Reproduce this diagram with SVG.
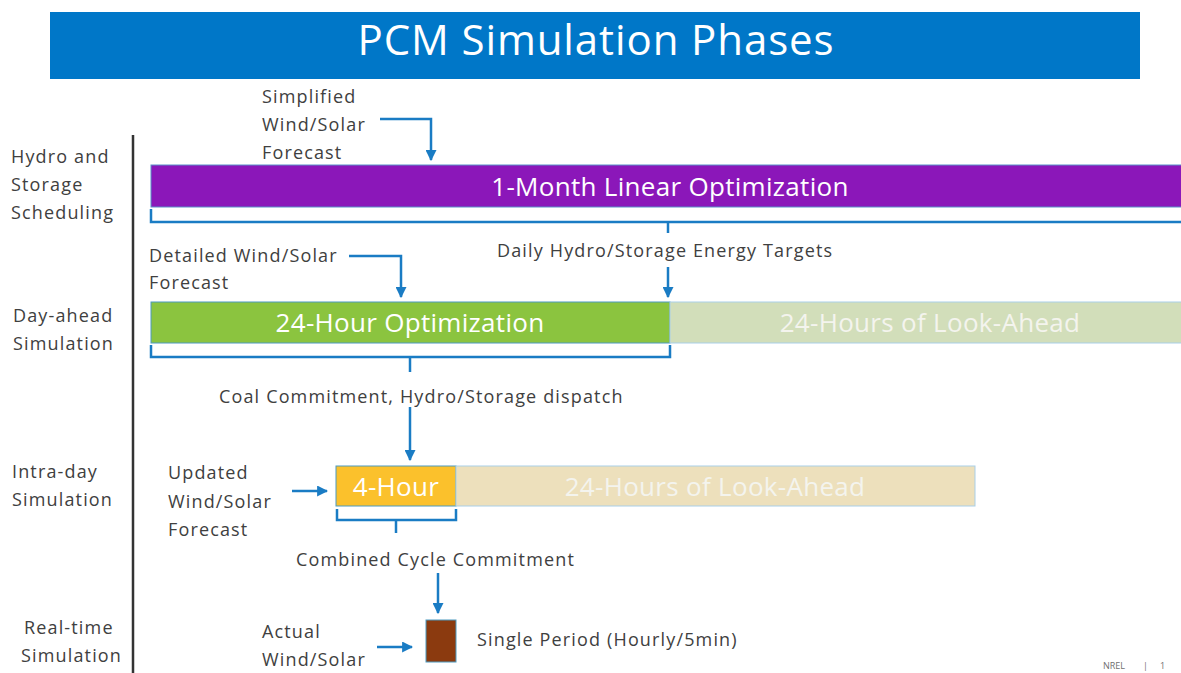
<svg xmlns="http://www.w3.org/2000/svg" width="1181" height="673" viewBox="0 0 1181 673">
<defs>
<marker id="ah" viewBox="0 0 10 10" refX="9" refY="5" markerWidth="4.4" markerHeight="4.4" orient="auto" markerUnits="strokeWidth"><path d="M0,0 L10,5 L0,10 z" fill="#1A7CC4"/></marker>
<style>
text{font-family:"Open Sans","Noto Sans",sans-serif}
.lbl{font-size:18px;fill:#404040;letter-spacing:1.15px}
.bar{font-size:26px;fill:#ffffff;letter-spacing:0.3px}
.bt{font-size:26px;fill:#f4f4ee;letter-spacing:0.3px}
.con{fill:none;stroke:#1A7CC4;stroke-width:2.5}
.arr{fill:none;stroke:#1A7CC4;stroke-width:2.5;marker-end:url(#ah)}
.ft{font-size:9px;fill:#707070}
</style>
</defs>
<rect width="1181" height="673" fill="#ffffff"/>
<g id="title">
<rect x="50" y="12" width="1090" height="67" fill="#0077C8"/>
<text x="596" y="55" text-anchor="middle" style="font-size:42px;fill:#ffffff;letter-spacing:0.9px">PCM Simulation Phases</text>
</g>
<g id="phase-labels">
<line x1="133" y1="135" x2="133" y2="673" stroke="#333333" stroke-width="2.5"/>
<text class="lbl" x="11" y="163">Hydro and</text>
<text class="lbl" x="11" y="191">Storage</text>
<text class="lbl" x="11" y="219">Scheduling</text>
<text class="lbl" x="13" y="322">Day-ahead</text>
<text class="lbl" x="13" y="350">Simulation</text>
<text class="lbl" x="12" y="478">Intra-day</text>
<text class="lbl" x="12" y="506">Simulation</text>
<text class="lbl" x="24" y="634">Real-time</text>
<text class="lbl" x="21" y="662">Simulation</text>
</g>
<g id="month">
<rect x="151" y="165" width="1032" height="42" fill="#8B17B9" stroke="#5B8FC9" stroke-width="1"/>
<text class="bar" x="670" y="196" text-anchor="middle">1-Month Linear Optimization</text>
</g>
<g id="dayahead">
<rect x="151" y="302" width="519" height="41" fill="#8BC43F" stroke="#4C9AC0" stroke-width="1"/>
<text class="bar" x="410" y="332" text-anchor="middle">24-Hour Optimization</text>
</g>
<g id="dayahead-lookahead">
<rect x="670" y="302" width="513" height="41" fill="#D2DEBA" stroke="#A9CFE8" stroke-width="1"/>
<text class="bt" x="930" y="332" text-anchor="middle">24-Hours of Look-Ahead</text>
</g>
<g id="intraday">
<rect x="336" y="466" width="120" height="40" fill="#FBC12C" stroke="#4C9AC0" stroke-width="1"/>
<text class="bar" x="396" y="496" text-anchor="middle">4-Hour</text>
</g>
<g id="intraday-lookahead">
<rect x="456" y="466" width="519" height="40" fill="#EDE0BC" stroke="#A9CFE8" stroke-width="1"/>
<text class="bt" x="715" y="496" text-anchor="middle">24-Hours of Look-Ahead</text>
</g>
<g id="realtime">
<rect x="426" y="620" width="30" height="42" fill="#8B3A0F" stroke="#4C9AC0" stroke-width="1"/>
<text class="lbl" x="477" y="646">Single Period (Hourly/5min)</text>
</g>
<g id="inputs">
<text class="lbl" x="262" y="103">Simplified</text>
<text class="lbl" x="262" y="131">Wind/Solar</text>
<text class="lbl" x="262" y="159">Forecast</text>
<text class="lbl" x="149" y="262">Detailed Wind/Solar</text>
<text class="lbl" x="149" y="289">Forecast</text>
<text class="lbl" x="497" y="257">Daily Hydro/Storage Energy Targets</text>
<text class="lbl" x="219" y="403">Coal Commitment, Hydro/Storage dispatch</text>
<text class="lbl" x="168" y="479">Updated</text>
<text class="lbl" x="168" y="508">Wind/Solar</text>
<text class="lbl" x="168" y="536">Forecast</text>
<text class="lbl" x="296" y="566">Combined Cycle Commitment</text>
<text class="lbl" x="262" y="638">Actual</text>
<text class="lbl" x="262" y="666">Wind/Solar</text>
</g>
<g id="footer">
<text class="ft" x="1103" y="669">NREL</text>
<text class="ft" x="1143" y="669">|</text>
<text class="ft" x="1160" y="669">1</text>
</g>
<g id="connectors">
<path class="arr" d="M380,119 H431 V160"/>
<path class="con" d="M151,209 V222 H1183"/>
<path class="con" d="M668,222 V233"/>
<path class="arr" d="M668,267 V297"/>
<path class="arr" d="M349,256 H401 V297"/>
<path class="con" d="M151,345 V357 H670 V345"/>
<path class="con" d="M410,357 V372"/>
<path class="arr" d="M410,407 V460"/>
<path class="arr" d="M292,491 H327"/>
<path class="con" d="M337,509 V520 H456 V509"/>
<path class="con" d="M396,520 V533"/>
<path class="arr" d="M438,573 V613"/>
<path class="arr" d="M377,647 H412"/>
</g>
</svg>
